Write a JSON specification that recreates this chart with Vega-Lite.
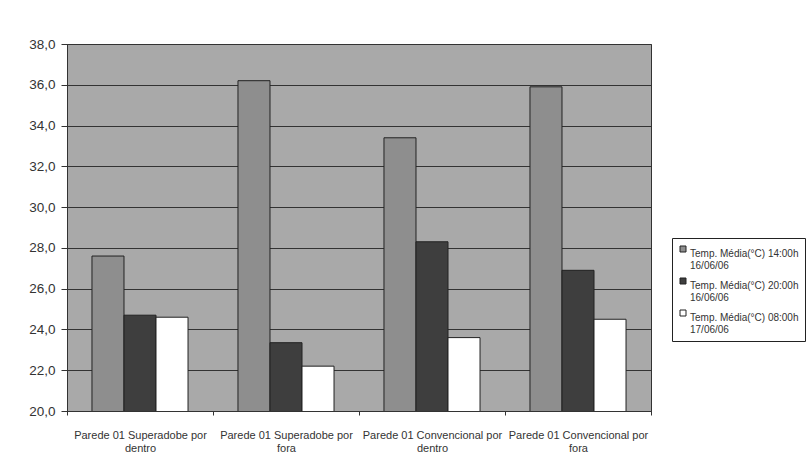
{
  "$schema": "https://vega.github.io/schema/vega-lite/v6.json",
  "autosize": {"type": "none"},
  "width": 584,
  "height": 367,
  "padding": {"left": 67, "top": 44, "right": 161, "bottom": 51},
  "background": "white",
  "data": {
    "values": [
      {"parede": "Parede 01 Superadobe por|dentro", "serie": "Temp. Média(°C) 14:00h|16/06/06", "temp": 27.6},
      {"parede": "Parede 01 Superadobe por|dentro", "serie": "Temp. Média(°C) 20:00h|16/06/06", "temp": 24.7},
      {"parede": "Parede 01 Superadobe por|dentro", "serie": "Temp. Média(°C) 08:00h|17/06/06", "temp": 24.6},
      {"parede": "Parede 01 Superadobe por|fora", "serie": "Temp. Média(°C) 14:00h|16/06/06", "temp": 36.2},
      {"parede": "Parede 01 Superadobe por|fora", "serie": "Temp. Média(°C) 20:00h|16/06/06", "temp": 23.35},
      {"parede": "Parede 01 Superadobe por|fora", "serie": "Temp. Média(°C) 08:00h|17/06/06", "temp": 22.2},
      {"parede": "Parede 01 Convencional por|dentro", "serie": "Temp. Média(°C) 14:00h|16/06/06", "temp": 33.4},
      {"parede": "Parede 01 Convencional por|dentro", "serie": "Temp. Média(°C) 20:00h|16/06/06", "temp": 28.3},
      {"parede": "Parede 01 Convencional por|dentro", "serie": "Temp. Média(°C) 08:00h|17/06/06", "temp": 23.6},
      {"parede": "Parede 01 Convencional por|fora", "serie": "Temp. Média(°C) 14:00h|16/06/06", "temp": 35.9},
      {"parede": "Parede 01 Convencional por|fora", "serie": "Temp. Média(°C) 20:00h|16/06/06", "temp": 26.9},
      {"parede": "Parede 01 Convencional por|fora", "serie": "Temp. Média(°C) 08:00h|17/06/06", "temp": 24.5}
    ]
  },
  "mark": {"type": "bar", "stroke": "#222222", "strokeWidth": 1, "clip": true},
  "encoding": {
    "x": {
      "field": "parede",
      "type": "nominal",
      "sort": null,
      "scale": {"paddingInner": 0, "paddingOuter": 0},
      "axis": {
        "title": null,
        "labelAngle": 0,
        "labelExpr": "split(datum.label, '|')",
        "labelFont": "Liberation Sans",
        "labelFontSize": 11,
        "labelColor": "#333333",
        "labelPadding": 14,
        "labelLimit": 170,
        "labelLineHeight": 13,
        "tickBand": "extent",
        "tickSize": 4,
        "tickColor": "#333333",
        "domainColor": "#333333",
        "grid": false
      }
    },
    "xOffset": {
      "field": "serie",
      "type": "nominal",
      "sort": null,
      "scale": {"paddingInner": 0, "paddingOuter": 0.78}
    },
    "y": {
      "field": "temp",
      "type": "quantitative",
      "scale": {"domain": [20, 38], "zero": false, "nice": false},
      "axis": {
        "title": null,
        "values": [20, 22, 24, 26, 28, 30, 32, 34, 36, 38],
        "labelExpr": "replace(format(datum.value, '.1f'), '.', ',')",
        "labelFont": "Liberation Sans",
        "labelFontSize": 13.5,
        "labelColor": "#333333",
        "labelPadding": 6,
        "tickSize": 6,
        "tickColor": "#333333",
        "domainColor": "#333333",
        "grid": true,
        "gridColor": "#333333",
        "gridWidth": 1,
        "gridOpacity": 1
      }
    },
    "color": {
      "field": "serie",
      "type": "nominal",
      "sort": null,
      "scale": {"range": ["#8e8e8e", "#3e3e3e", "#ffffff"]},
      "legend": {
        "title": null,
        "orient": "none",
        "legendX": 605,
        "legendY": 194,
        "labelExpr": "split(datum.label, '|')",
        "labelFont": "Liberation Sans",
        "labelFontSize": 10,
        "labelColor": "#333333",
        "labelLimit": 200,
        "labelBaseline": "top",
        "labelOffset": 2,
        "symbolType": "square",
        "symbolSize": 36,
        "symbolStrokeColor": "#222222",
        "symbolStrokeWidth": 1,
        "rowPadding": 5,
        "padding": 6,
        "strokeColor": "#222222",
        "fillColor": "white",
        "cornerRadius": 0
      }
    }
  },
  "config": {
    "view": {"fill": "#a9a9a9", "stroke": "#333333", "strokeWidth": 1}
  }
}
